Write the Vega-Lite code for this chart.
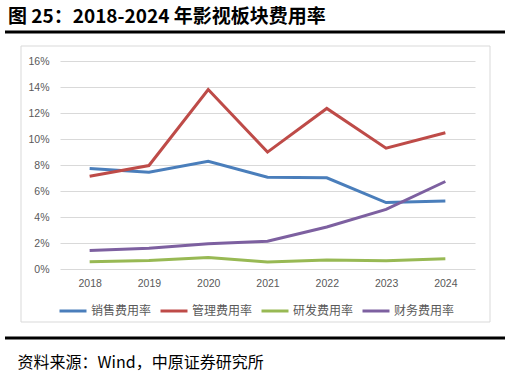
{
  "$schema": "https://vega.github.io/schema/vega-lite/v6.json",
  "autosize": {"type": "none"},
  "width": 415,
  "height": 208,
  "padding": {"left": 60, "top": 61, "right": 35, "bottom": 109},
  "background": "#ffffff",
  "title": {
    "text": "图 25：2018-2024 年影视板块费用率",
    "anchor": "start",
    "frame": "group",
    "dx": -52,
    "offset": 4,
    "font": "Noto Sans CJK SC",
    "fontSize": 19,
    "fontWeight": "bold",
    "color": "#000000"
  },
  "config": {
    "view": {"stroke": null},
    "axis": {"labelFont": "Liberation Sans", "labelFontSize": 10.5, "labelColor": "#595959", "ticks": false}
  },
  "layer": [
    {
      "data": {"values": [{}]},
      "mark": {"type": "rect", "fill": null, "stroke": "#d9d9d9", "strokeWidth": 1},
      "encoding": {"x": {"value": -39}, "x2": {"value": 430}, "y": {"value": -15}, "y2": {"value": 261}}
    },
    {
      "data": {"values": [{}]},
      "mark": {"type": "rule", "stroke": "#000000", "strokeWidth": 3},
      "encoding": {"x": {"value": -55}, "x2": {"value": 445}, "y": {"value": -29}}
    },
    {
      "data": {"values": [{}]},
      "mark": {"type": "rule", "stroke": "#000000", "strokeWidth": 3},
      "encoding": {"x": {"value": -55}, "x2": {"value": 445}, "y": {"value": 277}}
    },
    {
      "data": {
        "values": [
          {"year": "2018", "series": "销售费用率", "value": 0.0773},
          {"year": "2019", "series": "销售费用率", "value": 0.0745},
          {"year": "2020", "series": "销售费用率", "value": 0.0829},
          {"year": "2021", "series": "销售费用率", "value": 0.0706},
          {"year": "2022", "series": "销售费用率", "value": 0.0701},
          {"year": "2023", "series": "销售费用率", "value": 0.0511},
          {"year": "2024", "series": "销售费用率", "value": 0.0524},
          {"year": "2018", "series": "管理费用率", "value": 0.0714},
          {"year": "2019", "series": "管理费用率", "value": 0.0796},
          {"year": "2020", "series": "管理费用率", "value": 0.1381},
          {"year": "2021", "series": "管理费用率", "value": 0.0899},
          {"year": "2022", "series": "管理费用率", "value": 0.1235},
          {"year": "2023", "series": "管理费用率", "value": 0.0929},
          {"year": "2024", "series": "管理费用率", "value": 0.1048},
          {"year": "2018", "series": "研发费用率", "value": 0.0056},
          {"year": "2019", "series": "研发费用率", "value": 0.0066},
          {"year": "2020", "series": "研发费用率", "value": 0.0089},
          {"year": "2021", "series": "研发费用率", "value": 0.0054},
          {"year": "2022", "series": "研发费用率", "value": 0.0069},
          {"year": "2023", "series": "研发费用率", "value": 0.0064},
          {"year": "2024", "series": "研发费用率", "value": 0.0079},
          {"year": "2018", "series": "财务费用率", "value": 0.0143},
          {"year": "2019", "series": "财务费用率", "value": 0.0159},
          {"year": "2020", "series": "财务费用率", "value": 0.0195},
          {"year": "2021", "series": "财务费用率", "value": 0.0213},
          {"year": "2022", "series": "财务费用率", "value": 0.0323},
          {"year": "2023", "series": "财务费用率", "value": 0.0459},
          {"year": "2024", "series": "财务费用率", "value": 0.0673}
        ]
      },
      "mark": {"type": "line", "strokeWidth": 3, "strokeJoin": "miter"},
      "encoding": {
        "x": {
          "field": "year",
          "type": "ordinal",
          "scale": {"type": "point", "padding": 0.5},
          "axis": {
            "labelAngle": 0,
            "labelPadding": 9,
            "domain": false,
            "grid": false,
            "title": "资料来源：Wind，中原证券研究所",
            "titleFont": "Noto Sans CJK SC",
            "titleFontSize": 16,
            "titleFontWeight": "normal",
            "titleColor": "#000000",
            "titleX": -43,
            "titleY": 93,
            "titleAlign": "left",
            "titleBaseline": "middle",
            "titleAnchor": "start"
          }
        },
        "y": {
          "field": "value",
          "type": "quantitative",
          "scale": {"domain": [0, 0.16]},
          "axis": {
            "values": [0, 0.02, 0.04, 0.06, 0.08, 0.1, 0.12, 0.14, 0.16],
            "format": ".0%",
            "title": null,
            "domain": false,
            "gridColor": "#d9d9d9",
            "gridWidth": 1,
            "labelPadding": 11
          }
        },
        "color": {
          "field": "series",
          "type": "nominal",
          "sort": ["销售费用率", "管理费用率", "研发费用率", "财务费用率"],
          "scale": {
            "domain": ["销售费用率", "管理费用率", "研发费用率", "财务费用率"],
            "range": ["#4a7ebb", "#be4b48", "#98b954", "#7d60a0"]
          },
          "legend": {
            "orient": "none",
            "legendX": -2,
            "legendY": 235,
            "direction": "horizontal",
            "columns": 4,
            "title": null,
            "symbolType": "stroke",
            "symbolSize": 729,
            "symbolStrokeWidth": 3,
            "labelFont": "Noto Sans CJK SC",
            "labelFontSize": 12,
            "labelColor": "#595959",
            "labelOffset": 3,
            "columnPadding": 2
          }
        }
      }
    }
  ]
}
